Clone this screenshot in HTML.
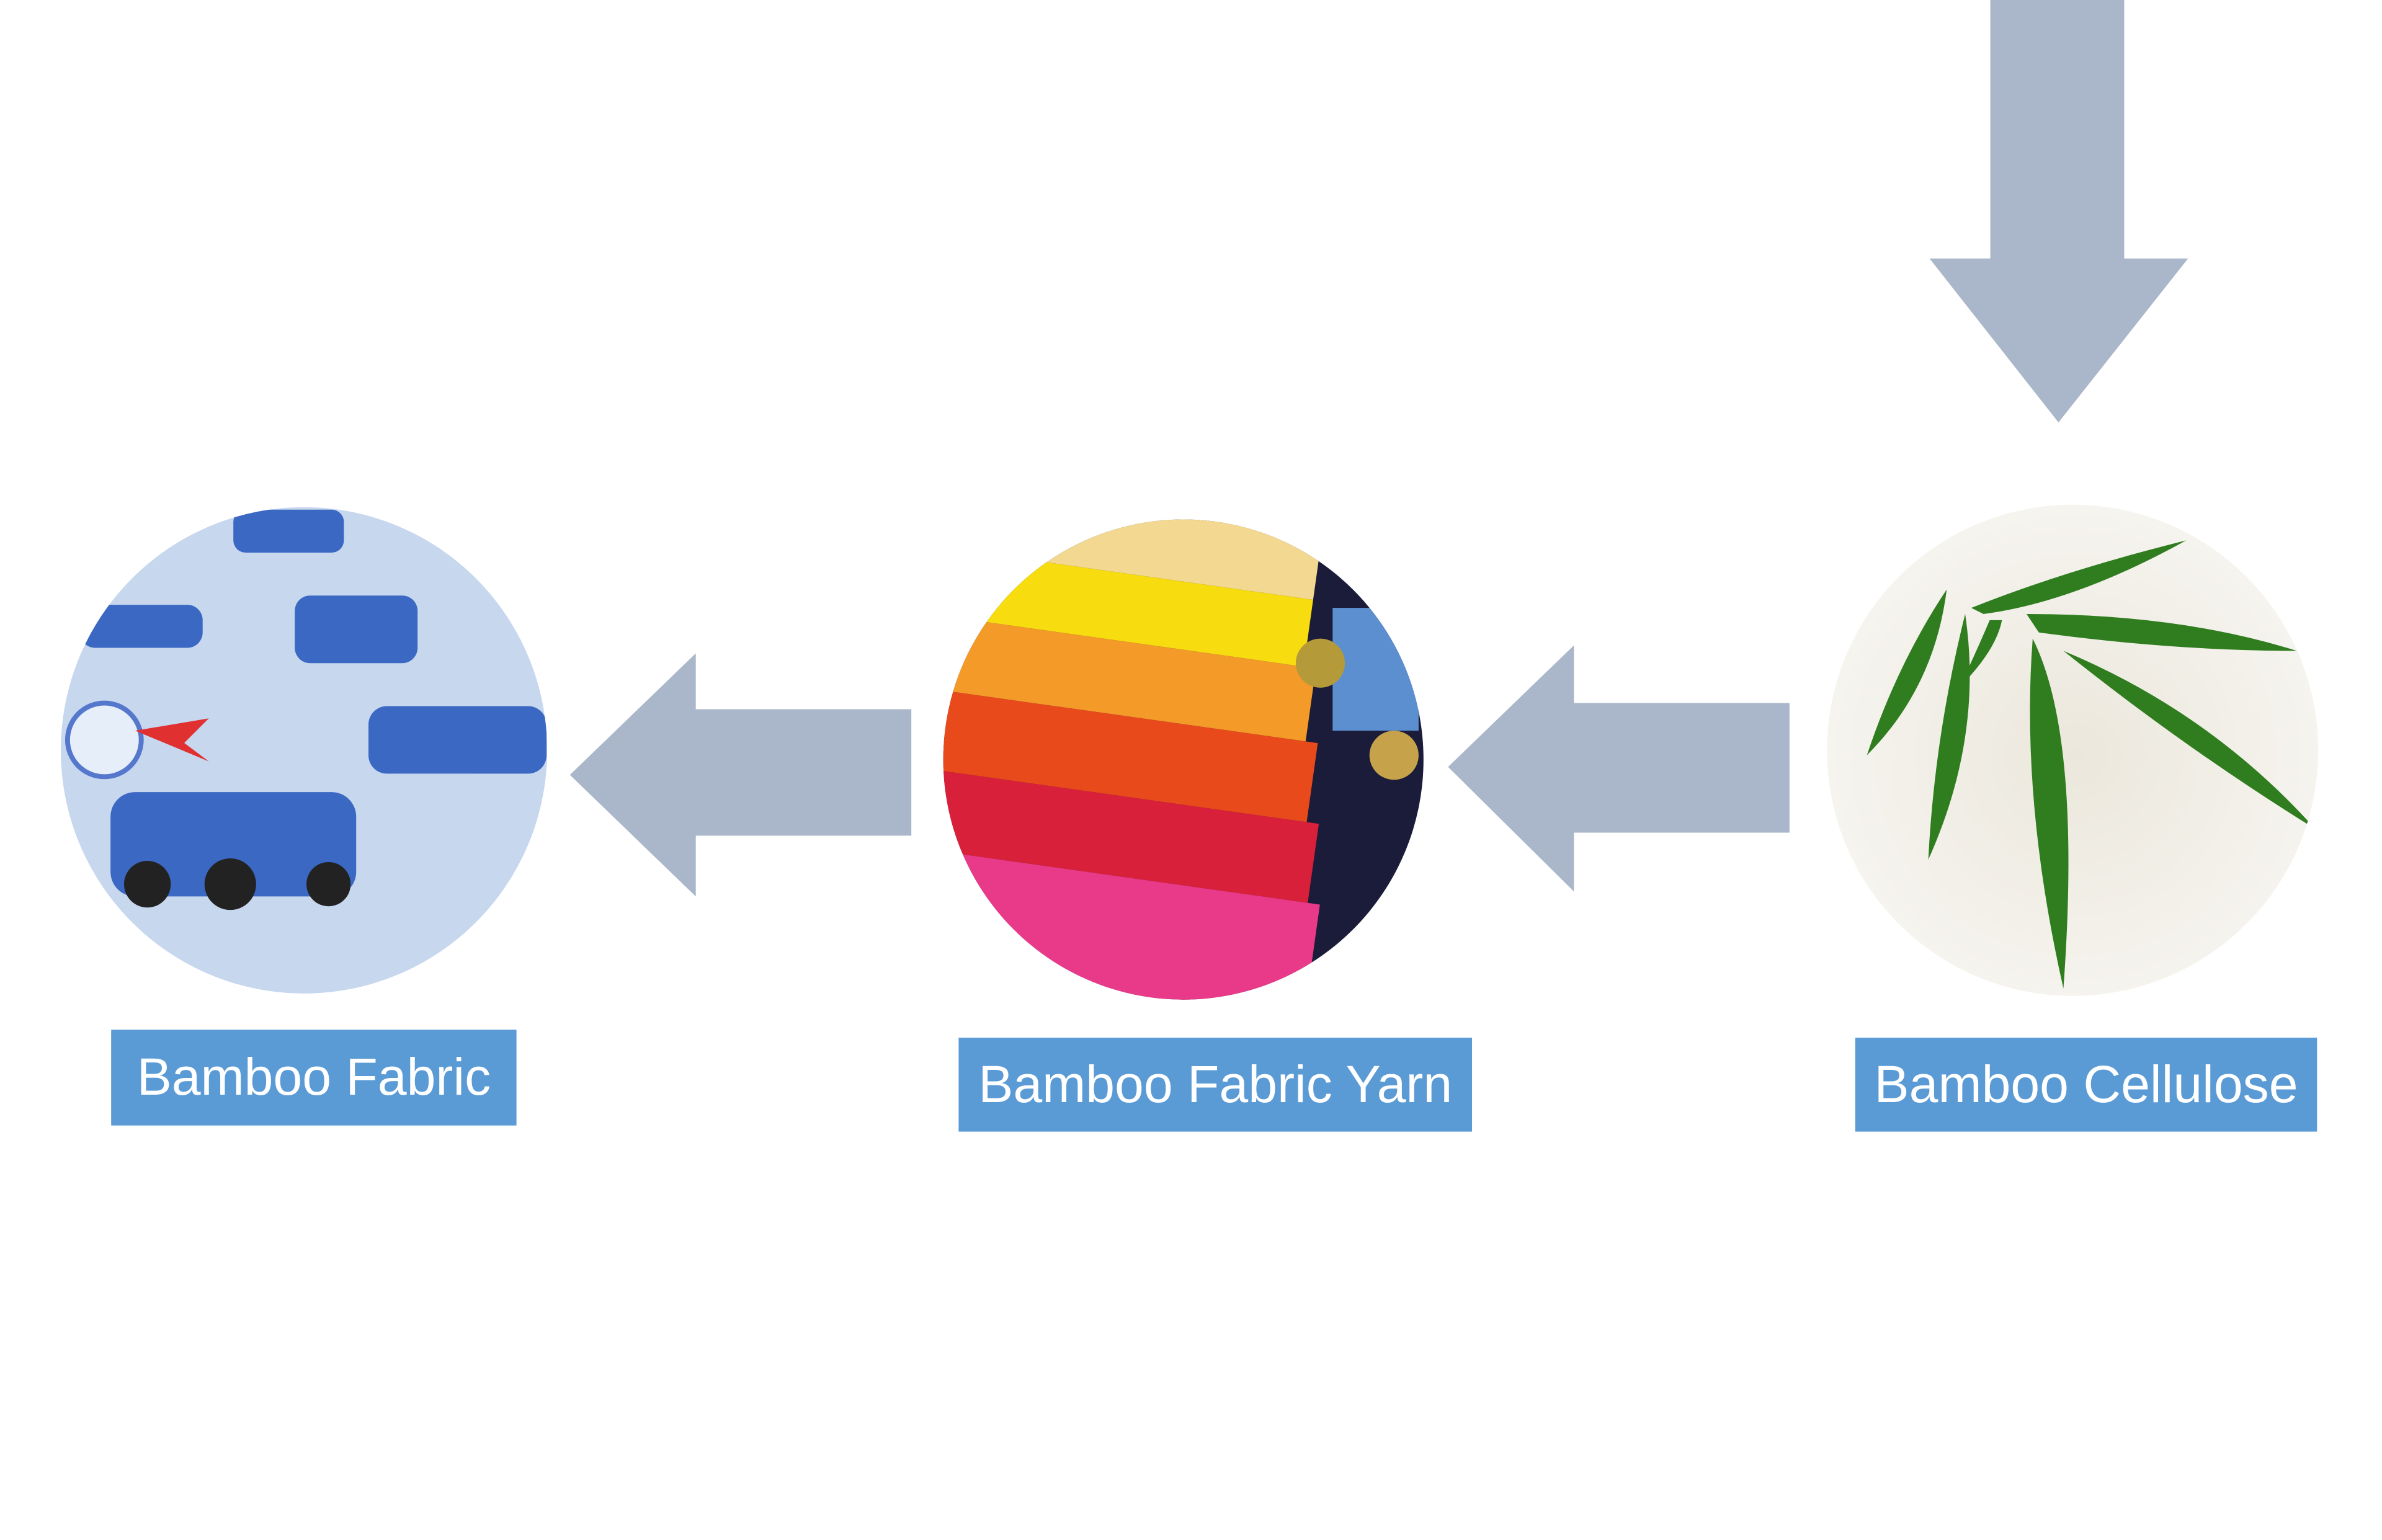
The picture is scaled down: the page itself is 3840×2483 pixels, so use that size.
<!DOCTYPE html>
<html><head><meta charset="utf-8"><style>
html,body{margin:0;padding:0;background:#fff;width:3840px;height:2483px;overflow:hidden}
#w{position:absolute;left:0;top:0;width:3840px;height:2483px;transform:scale(0.99);transform-origin:0 0}
.lbl{position:absolute;background:#5b9bd5;color:#fff;font-family:"Liberation Sans",sans-serif;font-size:85px;display:flex;align-items:center;justify-content:center;white-space:nowrap}
</style></head><body><div id="w">
<svg width="3840" height="2483" style="position:absolute;left:0;top:0">
<defs>
<clipPath id="c1"><circle cx="495" cy="1222" r="396"/></clipPath>
<clipPath id="c2"><circle cx="1927" cy="1237" r="391"/></clipPath>
<clipPath id="c3"><circle cx="3375" cy="1222" r="400"/></clipPath>
<radialGradient id="g3"><stop offset="0" stop-color="#ebe7dc"/><stop offset="1" stop-color="#f6f4ef"/></radialGradient>
</defs>
<g fill="#aab6c9">
<polygon points="3241,0 3459,0 3459,421 3563,421 3352,688 3142,421 3241,421"/>
<polygon points="928,1262 1133,1064 1133,1155 1484,1155 1484,1361 1133,1361 1133,1460"/>
<polygon points="2358,1249 2563,1051 2563,1145 2914,1145 2914,1356 2563,1356 2563,1452"/>
</g>
<g clip-path="url(#c1)">
<rect x="90" y="820" width="820" height="820" fill="#c6d7ee"/>
<g fill="#3b68c2">
<rect x="380" y="830" width="180" height="70" rx="20"/>
<rect x="130" y="985" width="200" height="70" rx="25"/>
<rect x="480" y="970" width="200" height="110" rx="25"/>
<rect x="600" y="1150" width="290" height="110" rx="30"/>
<rect x="180" y="1290" width="400" height="170" rx="40"/>
</g>
<circle cx="170" cy="1205" r="60" fill="#e6eefa" stroke="#5577cc" stroke-width="8"/>
<path d="M220,1190 L340,1170 L300,1210 L340,1240 Z" fill="#e03030"/>
<g fill="#222"><circle cx="240" cy="1440" r="38"/><circle cx="375" cy="1440" r="42"/><circle cx="535" cy="1440" r="36"/></g>
</g>
<g clip-path="url(#c2)">
<rect x="1530" y="840" width="800" height="800" fill="#1b1b3a"/>
<g transform="rotate(8 1927 1237)">
<rect x="1500" y="840" width="600" height="110" fill="#f2d890"/>
<rect x="1500" y="950" width="600" height="110" fill="#f7dc10"/>
<rect x="1500" y="1060" width="620" height="120" fill="#f39a28"/>
<rect x="1500" y="1180" width="640" height="130" fill="#e84a1c"/>
<rect x="1500" y="1310" width="660" height="130" fill="#d8203a"/>
<rect x="1500" y="1440" width="680" height="200" fill="#e93a8a"/>
</g>
<rect x="2170" y="990" width="140" height="200" fill="#5c8fd0"/>
<circle cx="2150" cy="1080" r="40" fill="#b59a3a"/>
<circle cx="2270" cy="1230" r="40" fill="#c6a24a"/>
</g>
<g clip-path="url(#c3)">
<rect x="2970" y="820" width="820" height="820" fill="url(#g3)"/>
<g fill="#2f7d1f">
<path d="M3210,990 Q3360,930 3560,880 Q3380,980 3230,1000 Z"/>
<path d="M3300,1000 Q3550,1000 3740,1060 Q3540,1060 3320,1030 Z"/>
<path d="M3310,1040 Q3390,1200 3360,1610 Q3290,1300 3310,1040 Z"/>
<path d="M3360,1060 Q3600,1160 3770,1350 Q3560,1220 3360,1060 Z"/>
<path d="M3200,1000 Q3230,1200 3140,1400 Q3150,1200 3200,1000 Z"/>
<path d="M3170,960 Q3150,1120 3040,1230 Q3090,1080 3170,960 Z"/>
<path d="M3240,1010 Q3210,1080 3190,1120 Q3250,1060 3260,1010 Z"/>
</g>
</g>
</svg>
<div class="lbl" style="left:181px;top:1677px;width:660px;height:156px">Bamboo Fabric</div>
<div class="lbl" style="left:1561px;top:1690px;width:836px;height:153px">Bamboo Fabric Yarn</div>
<div class="lbl" style="left:3021px;top:1690px;width:752px;height:153px">Bamboo Cellulose</div>
</div></body></html>
